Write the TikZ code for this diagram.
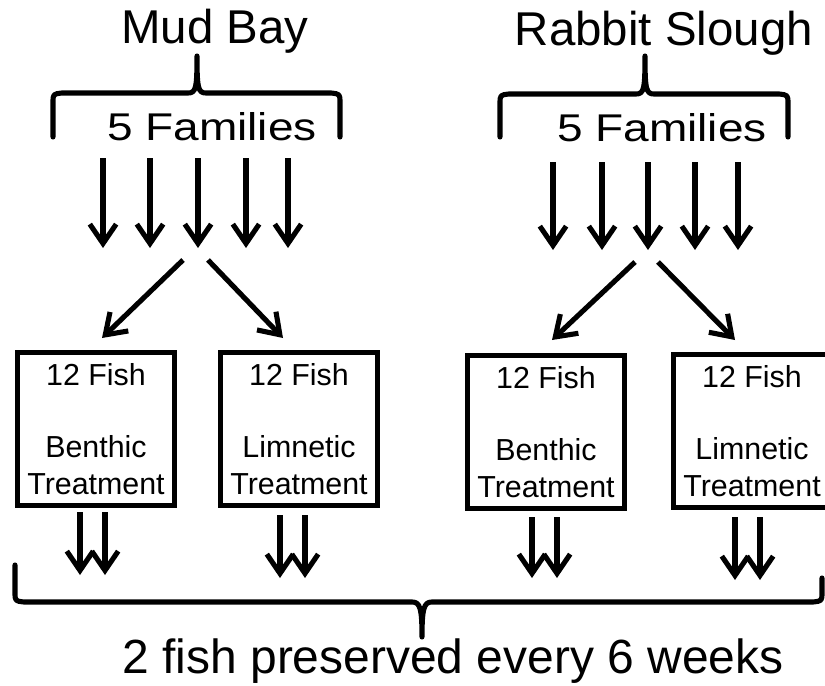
\documentclass[tikz,border=0pt]{standalone}
\usepackage{graphicx}
\usepackage{fontspec}
\setmainfont{Liberation Sans}
\usetikzlibrary{arrows.meta}
\tikzset{
    flow/.style={line width=2.9pt,-{Straight Barb[length=11pt,width=15pt,line width=2.9pt]}},
    treat/.style={draw,line width=3pt,minimum width=3.14cm,minimum height=3.06cm,inner sep=0pt,align=center,font=\fontsize{17.3}{20.6}\selectfont},
    brace/.style={line width=2.9pt,line cap=round,line join=round},
    site/.style={anchor=base,font=\fontsize{27}{32}\selectfont},
    fam/.style={anchor=base,font=\fontsize{22}{26}\selectfont}
}

\begin{document}
\begin{tikzpicture}[x=0.02cm,y=-0.02cm]
\useasboundingbox (0,0) rectangle (825,686);

% sites
\node[site] (mudbay) at (215,44) {Mud Bay};
\node[site] (rabbit) at (664,46) {Rabbit Slough};
\draw[brace] (53,137) -- (53,103) .. controls (53,94) .. (62,93) -- (188,93)
    .. controls (196,93) and (197,88) .. (197,56) .. controls (197,88) and (198,93) .. (206,93)
    -- (331,93) .. controls (340,94) .. (340,103) -- (340,137);
\draw[brace] (500,137) -- (500,104) .. controls (500,95) .. (509,94) -- (636,94)
    .. controls (644,94) and (645,89) .. (645,56) .. controls (645,89) and (646,94) .. (654,94)
    -- (779,94) .. controls (788,95) .. (788,104) -- (788,137);
\node[fam] (mbfam) at (212,140) {\scalebox{1.19}[1]{5 Families}};
\node[fam] (rsfam) at (662,142) {\scalebox{1.19}[1]{5 Families}};

% families
\foreach \x [count=\i] in {103,150,198,246,288}{
    \coordinate (mbtop\i) at (\x,158);
    \coordinate (mbbot\i) at (\x,248);
    \draw[flow] (mbtop\i) -- (mbbot\i);
}
\foreach \x [count=\i] in {553,602,648,695,738}{
    \coordinate (rstop\i) at (\x,162);
    \coordinate (rsbot\i) at (\x,250);
    \draw[flow] (rstop\i) -- (rsbot\i);
}

% treatments
\node[treat] (mbben) at (96,429) {12 Fish\\ \\Benthic\\Treatment};
\node[treat] (mblim) at (299,429) {12 Fish\\ \\Limnetic\\Treatment};
\node[treat] (rsben) at (546,432) {12 Fish\\ \\Benthic\\Treatment};
\node[treat] (rslim) at (752,431) {12 Fish\\ \\Limnetic\\Treatment};

\coordinate (mbsplitL) at (183,260);
\coordinate (mbsplitR) at (208,260);
\coordinate (mbtoben) at (102,338);
\coordinate (mbtolim) at (283,338);
\coordinate (rssplitL) at (635,262);
\coordinate (rssplitR) at (658,262);
\coordinate (rstoben) at (552,340);
\coordinate (rstolim) at (735,340);
\draw[flow] (mbsplitL) -- (mbtoben);
\draw[flow] (mbsplitR) -- (mbtolim);
\draw[flow] (rssplitL) -- (rstoben);
\draw[flow] (rssplitR) -- (rstolim);

% sampling
\foreach \x/\ya/\yb [count=\i] in {80/512/575,105/512/575,280/515/578,305/515/578,
    532/517/578,557/517/578,735/517/580,760/517/580}{
    \coordinate (outtop\i) at (\x,\ya);
    \coordinate (outbot\i) at (\x,\yb);
    \draw[flow] (outtop\i) -- (outbot\i);
}
\draw[brace] (15,565) -- (15,592) .. controls (15,601) .. (24,602) -- (412,602)
    .. controls (420,602) and (422,608) .. (422,637) .. controls (422,608) and (424,602) .. (432,602)
    -- (813,602) .. controls (822,601) .. (822,592) -- (822,578);
\node[site,font=\fontsize{27.3}{32}\selectfont] (preserved) at (453,673) {2 fish preserved every 6 weeks};
\end{tikzpicture}
\end{document}
